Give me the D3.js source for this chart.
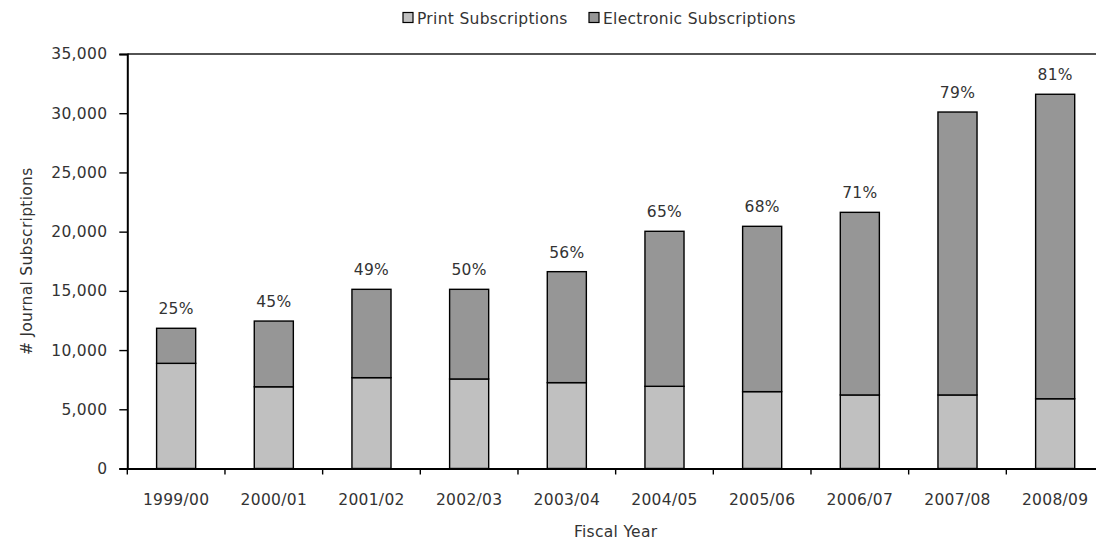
<!DOCTYPE html>
<html>
<head>
<meta charset="utf-8">
<script src="https://cdn.jsdelivr.net/npm/d3@7"></script>
<style>
  html, body { margin: 0; padding: 0; background: #fff; }
  svg { display: block; }
  text { font-family: "DejaVu Sans", Verdana, sans-serif; font-size: 15.5px; letter-spacing: 0.3px; fill: #333; }
</style>
</head>
<body>
<svg id="chart" width="1096" height="541"></svg>
<script>
// ---- data ----
const categories = ["1999/00","2000/01","2001/02","2002/03","2003/04","2004/05","2005/06","2006/07","2007/08","2008/09"];
const printSubs = [8880, 6900, 7670, 7560, 7250, 6940, 6490, 6210, 6210, 5890];
const electronicSubs = [2960, 5550, 7460, 7570, 9370, 13090, 13960, 15420, 23890, 25710];
const pctLabels = ["25%","45%","49%","50%","56%","65%","68%","71%","79%","81%"];
const yTicks = [0, 5000, 10000, 15000, 20000, 25000, 30000, 35000];
const seriesNames = ["Print Subscriptions", "Electronic Subscriptions"];
const seriesColors = ["#c0c0c0", "#969696"];

(function () {
// ---- layout ----
const pLeft = 127.3, pRight = 1104, pTop = 54, pBottom = 468.5;
const svg = d3.select("#chart");
const font = "'DejaVu Sans', Verdana, sans-serif";
const fs = "15.5px";

const rows = categories.map((c, i) => ({cat: c, print: printSubs[i], electronic: electronicSubs[i], pct: pctLabels[i]}));
const stack = d3.stack().keys(["print", "electronic"])(rows);

const x = d3.scaleBand().domain(categories).range([pLeft, pRight]).padding(0);
const y = d3.scaleLinear().domain([0, 35000]).range([pBottom, pTop]);
const barW = x.bandwidth() * 0.4;
const barOff = (x.bandwidth() - barW) / 2;

// plot area border (top)
svg.append("line")
  .attr("x1", pLeft).attr("x2", pRight)
  .attr("y1", y(35000)).attr("y2", y(35000))
  .attr("stroke", "#1a1a1a").attr("stroke-width", 1.4);

// bars
stack.forEach((layer, li) => {
  svg.append("g").selectAll("rect").data(layer).join("rect")
    .attr("x", d => x(d.data.cat) + barOff)
    .attr("width", barW)
    .attr("y", d => y(d[1]))
    .attr("height", d => y(d[0]) - y(d[1]))
    .attr("fill", seriesColors[li])
    .attr("stroke", "#000")
    .attr("stroke-width", 1.4);
});

// percent labels
svg.append("g").selectAll("text").data(stack[1]).join("text")
  .attr("x", d => x(d.data.cat) + x.bandwidth() / 2)
  .attr("y", d => y(d[1]) - 14)
  .attr("text-anchor", "middle")
  .text(d => d.data.pct);

// y axis
const yAxis = svg.append("g").attr("transform", `translate(${pLeft},0)`)
  .call(d3.axisLeft(y).tickValues(yTicks).tickSize(8).tickPadding(12).tickFormat(d3.format(",")));
yAxis.select(".domain").attr("stroke", "#000").attr("stroke-width", 2);
yAxis.selectAll(".tick line").attr("stroke", "#000").attr("stroke-width", 1.4);
yAxis.selectAll("text").attr("fill", "#333").style("font-size", fs).style("font-family", font);

// x axis (labels at centres)
const xAxis = svg.append("g").attr("transform", `translate(0,${pBottom})`)
  .call(d3.axisBottom(x).tickSize(0).tickPadding(25.5).tickSizeOuter(0));
xAxis.select(".domain").attr("stroke", "#000").attr("stroke-width", 2);
xAxis.selectAll("text").attr("fill", "#333").style("font-size", fs).style("font-family", font);
// x tick marks at category boundaries
const bounds = categories.map(c => x(c)).concat([x(categories[categories.length - 1]) + x.bandwidth()]);
svg.append("g").selectAll("line").data(bounds).join("line")
  .attr("x1", d => d).attr("x2", d => d)
  .attr("y1", pBottom).attr("y2", pBottom + 6)
  .attr("stroke", "#000").attr("stroke-width", 1.4);

// axis titles
svg.append("text")
  .attr("x", (pLeft + pRight) / 2).attr("y", 537)
  .attr("text-anchor", "middle")
  .text("Fiscal Year");
svg.append("text")
  .attr("transform", `translate(32,${(pTop + pBottom) / 2}) rotate(-90)`)
  .attr("text-anchor", "middle")
  .text("# Journal Subscriptions");

// legend
const legend = svg.append("g");
const legendX = [403, 589];
seriesNames.forEach((name, i) => {
  legend.append("rect")
    .attr("x", legendX[i]).attr("y", 12.5)
    .attr("width", 10).attr("height", 10)
    .attr("fill", seriesColors[i]).attr("stroke", "#000").attr("stroke-width", 1.2);
  legend.append("text")
    .attr("x", legendX[i] + 14).attr("y", 23.5)
    .text(name);
});
})();
</script>
</body>
</html>
